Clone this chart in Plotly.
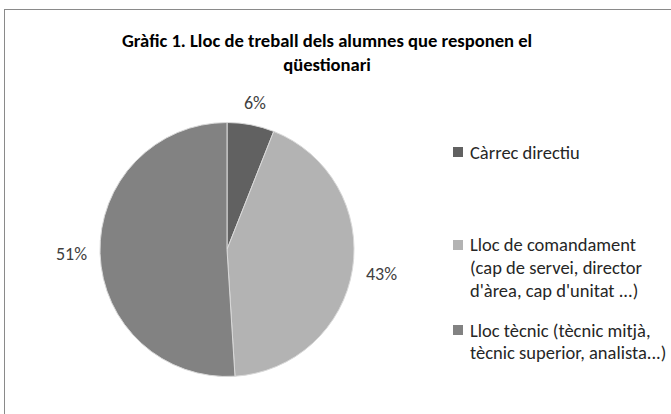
import math
import plotly.graph_objects as go

# ---- data ----
categories = [
    "Càrrec directiu",
    "Lloc de comandament<br>(cap de servei, director<br>d'àrea, cap d'unitat ...)",
    "Lloc tècnic (tècnic mitjà,<br>tècnic superior, analista...)",
]
values = [6, 43, 51]
colors = ["#616161", "#b3b3b3", "#828282"]
title_text = "Gràfic 1. Lloc de treball dels alumnes que responen el<br>qüestionari"

W, H = 671, 414
FONT = "Carlito, Calibri, Lato, sans-serif"

def px(x):
    return x / W

def py(y):
    return 1 - y / H

# pie geometry (pixels)
cx, cy, r = 227, 249.5, 127

fig = go.Figure()
fig.add_trace(go.Pie(
    labels=[c.replace("<br>", " ") for c in categories],
    values=values,
    sort=False,
    direction="clockwise",
    rotation=0,
    marker=dict(colors=colors, line=dict(color="#d9d9d9", width=1)),
    textinfo="none",
    hoverinfo="label+percent",
    showlegend=False,
    domain=dict(x=[px(cx - r), px(cx + r)], y=[py(cy + r), py(cy - r)]),
))

annotations = []
shapes = []

# percentage labels placed outside each slice at its mid angle
total = sum(values)
cum = 0
for v in values:
    mid = (cum + v / 2) / total * 2 * math.pi
    cum += v
    s, c = math.sin(mid), -math.cos(mid)
    dist = r + 10 + abs(s) * 18 + abs(c) * 9
    lx, ly = cx + dist * s, cy + dist * c
    pct = round(v / total * 100)
    annotations.append(dict(
        x=px(lx), y=py(ly), xref="paper", yref="paper",
        text=f"{pct}%", showarrow=False,
        font=dict(family=FONT, size=18, color="#404040"),
        xanchor="center", yanchor="middle",
    ))

# legend drawn manually (Excel-style spacing)
legend_first_line_y = [152, 245, 330]
line_h = 22.5
sq_x, text_x, sq = 453, 468, 10
for lab, col, y0 in zip(categories, colors, legend_first_line_y):
    lines = lab.split("<br>")
    shapes.append(dict(type="rect", xref="paper", yref="paper",
                       x0=px(sq_x), x1=px(sq_x + sq),
                       y0=py(y0 + sq / 2), y1=py(y0 - sq / 2),
                       fillcolor=col, line=dict(width=0)))
    for i, ln in enumerate(lines):
        annotations.append(dict(
            x=px(text_x), y=py(y0 + i * line_h), xref="paper", yref="paper",
            text=ln, showarrow=False, xanchor="left", yanchor="middle",
            font=dict(family=FONT, size=18.5, color="#262626"),
        ))

# title
annotations.append(dict(
    x=px(327), y=py(52), xref="paper", yref="paper",
    text="<b>" + title_text + "</b>", showarrow=False,
    xanchor="center", yanchor="middle",
    font=dict(family=FONT, size=18.6, color="#000000"),
))

fig.update_layout(
    width=W, height=H,
    margin=dict(l=0, r=0, t=0, b=0),
    paper_bgcolor="white", plot_bgcolor="white",
    annotations=annotations, shapes=shapes,
    showlegend=False,
)

# page setup: no body margin, plus the chart-area border (top/left edges visible,
# right/bottom edges fall outside the window as in the reference)
post = (
    "document.body.style.margin='0';"
    "document.body.style.overflow='hidden';"
    "var b=document.createElement('div');"
    "b.style.cssText='position:absolute;left:4px;top:9px;width:720px;height:460px;"
    "border:1px solid #8a8a8a;box-sizing:border-box;pointer-events:none;z-index:10;';"
    "document.body.appendChild(b);"
    "window.scrollTo(0,0);"
)

fig.write_html("out.html", config={"displayModeBar": False}, post_script=post)
